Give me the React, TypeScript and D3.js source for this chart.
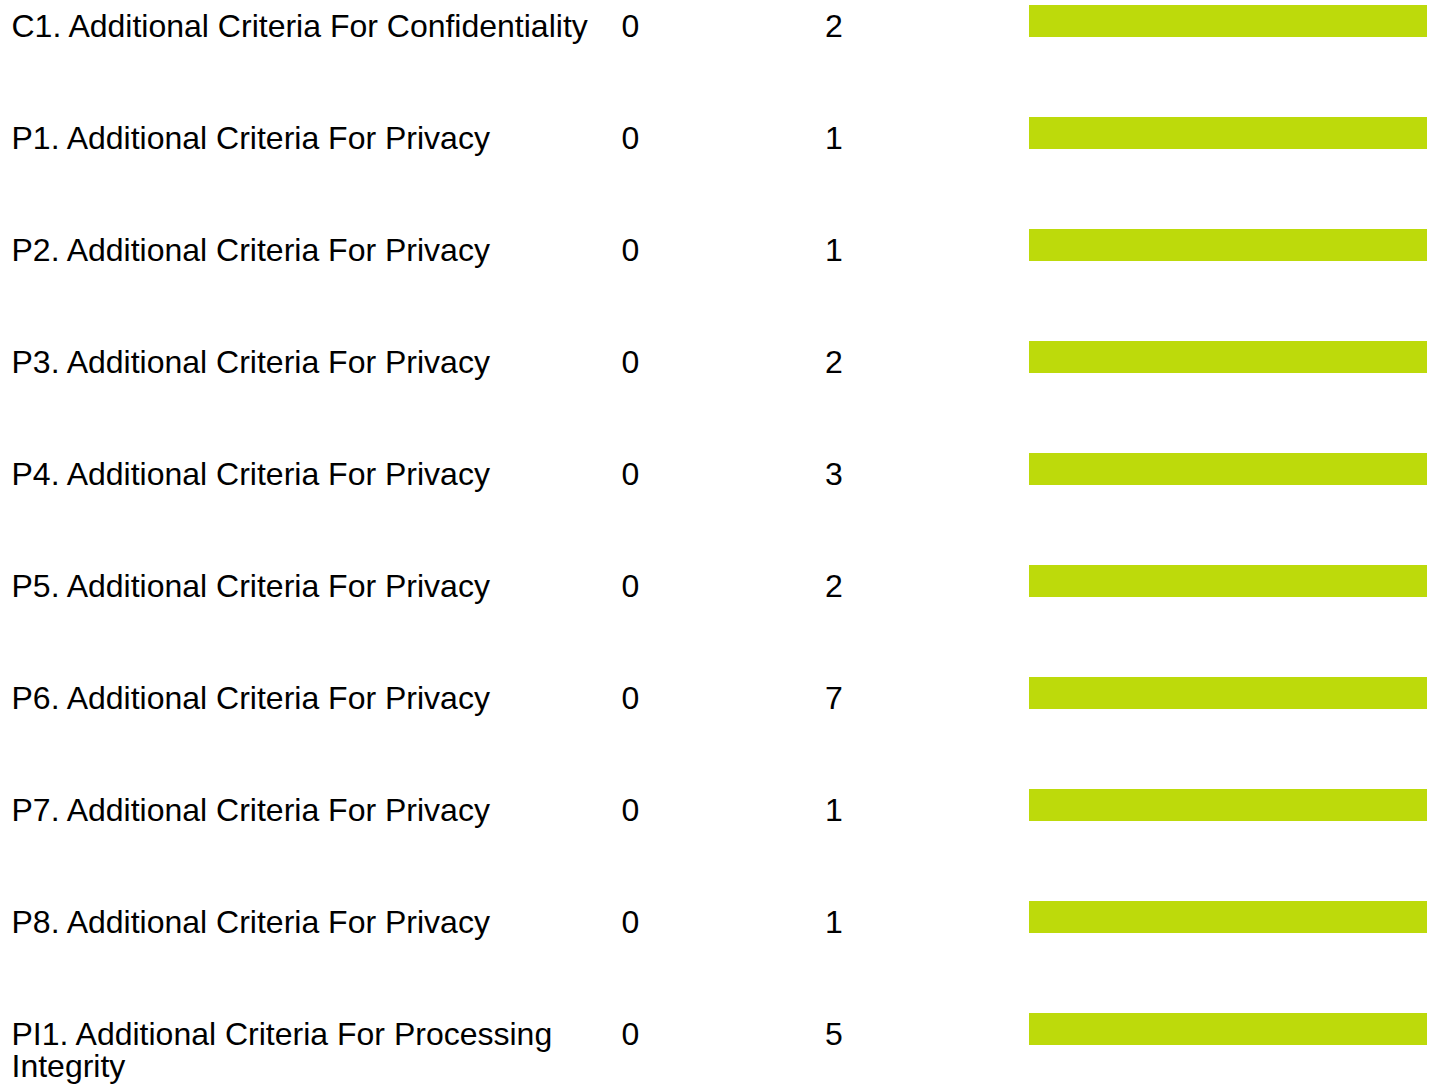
import React, { useEffect, useRef } from "react";
import * as d3 from "d3";

const labels: string[] = [
  "C1. Additional Criteria For Confidentiality",
  "P1. Additional Criteria For Privacy",
  "P2. Additional Criteria For Privacy",
  "P3. Additional Criteria For Privacy",
  "P4. Additional Criteria For Privacy",
  "P5. Additional Criteria For Privacy",
  "P6. Additional Criteria For Privacy",
  "P7. Additional Criteria For Privacy",
  "P8. Additional Criteria For Privacy",
  "PI1. Additional Criteria For Processing Integrity",
];
const failing: number[] = [0, 0, 0, 0, 0, 0, 0, 0, 0, 0];
const totals: number[] = [2, 1, 1, 2, 3, 2, 7, 1, 1, 5];

const W = 1437;
const H = 1088;
const FONT = "'Liberation Sans', Helvetica, Arial, sans-serif";
const FS = 32;
const BAR_COLOR = "#bdda0b";

export default function App() {
  const ref = useRef<SVGSVGElement | null>(null);

  useEffect(() => {
    const svg = d3.select(ref.current);
    svg.selectAll("*").remove();

    const rows = labels.map((l, i) => ({
      label: l,
      fail: failing[i],
      total: totals[i],
      share: totals[i] > 0 ? (totals[i] - failing[i]) / totals[i] : 0,
    }));

    const y = d3
      .scaleBand<number>()
      .domain(d3.range(rows.length))
      .range([-3, -3 + 112 * rows.length])
      .paddingInner(0);

    const x = d3.scaleLinear().domain([0, 1]).range([1029, 1427]);

    const g = svg
      .selectAll("g.row")
      .data(rows)
      .enter()
      .append("g")
      .attr("class", "row")
      .attr("transform", (_d, i) => `translate(0,${y(i)})`);

    g.append("rect")
      .attr("x", x(0))
      .attr("y", 8)
      .attr("height", 32)
      .attr("width", (d) => x(d.share) - x(0))
      .attr("fill", BAR_COLOR);

    const maxW = 600;
    const LX = 11.5;
    g.each(function (d) {
      const t = d3
        .select(this)
        .append("text")
        .attr("x", LX)
        .attr("y", 40)
        .attr("font-family", FONT)
        .attr("font-size", FS)
        .attr("fill", "#000");
      const words = d.label.split(" ");
      let line: string[] = [];
      let lineNo = 0;
      let tspan = t.append("tspan").attr("x", LX).attr("y", 40);
      for (const w of words) {
        line.push(w);
        tspan.text(line.join(" "));
        const node = tspan.node() as SVGTSpanElement;
        if (node.getComputedTextLength() > maxW && line.length > 1) {
          line.pop();
          tspan.text(line.join(" "));
          line = [w];
          lineNo++;
          tspan = t
            .append("tspan")
            .attr("x", LX)
            .attr("y", 40 + lineNo * 32)
            .text(w);
        }
      }
    });

    g.append("text")
      .attr("x", 621.5)
      .attr("y", 40)
      .attr("font-family", FONT)
      .attr("font-size", FS)
      .attr("fill", "#000")
      .text((d) => String(d.fail));

    g.append("text")
      .attr("x", 825)
      .attr("y", 40)
      .attr("font-family", FONT)
      .attr("font-size", FS)
      .attr("fill", "#000")
      .text((d) => String(d.total));
  }, []);

  return (
    <svg
      ref={ref}
      width={W}
      height={H}
      style={{ position: "absolute", left: 0, top: 0, background: "#fff" }}
    />
  );
}
